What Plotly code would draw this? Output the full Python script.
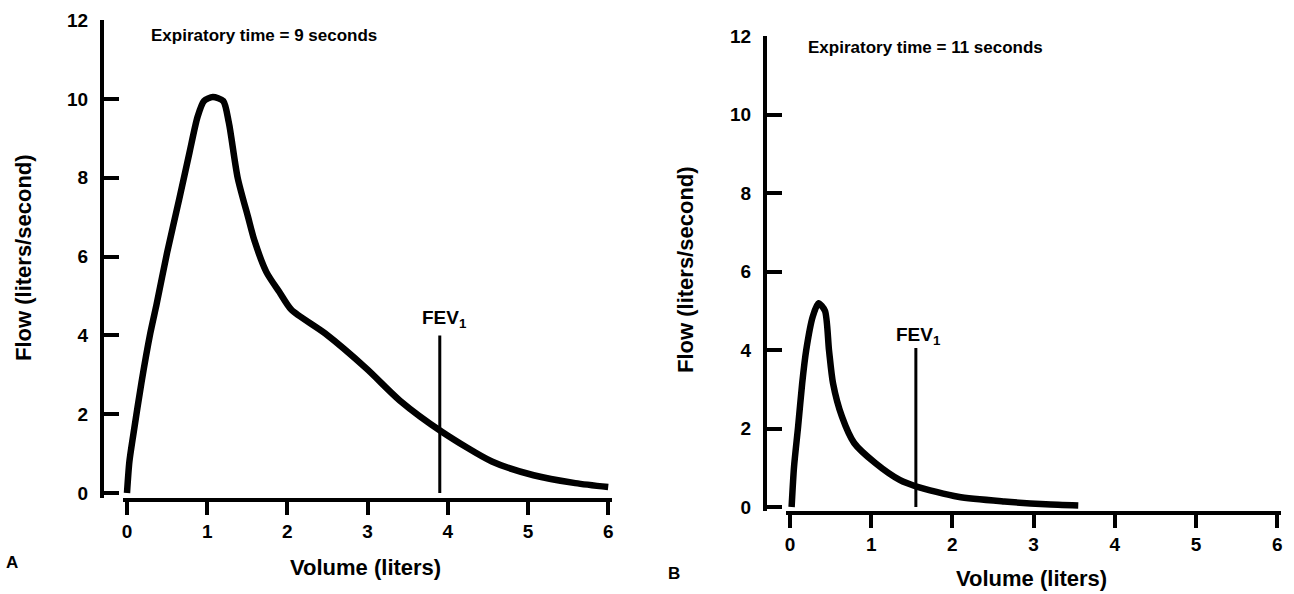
import plotly.graph_objects as go

# ---------------- data ----------------
vol_a = [0, 0.03, 0.08, 0.18, 0.29, 0.37, 0.5, 0.65, 0.78, 0.88, 0.96, 1.07, 1.2, 1.27,
         1.38, 1.51, 1.59, 1.74, 1.9, 2.05, 2.47, 2.99, 3.4, 3.93, 4.55, 5.07, 5.59, 6.0]
flow_a = [0, 0.8, 1.5, 2.8, 4.05, 4.8, 6.1, 7.45, 8.65, 9.55, 9.95, 10.05, 9.95, 9.4,
          8.0, 7.0, 6.4, 5.6, 5.1, 4.65, 4.05, 3.15, 2.35, 1.55, 0.8, 0.45, 0.25, 0.15]

vol_b = [0.02, 0.05, 0.1, 0.15, 0.2, 0.28, 0.35, 0.43, 0.48, 0.53, 0.64, 0.79, 1.05,
         1.35, 1.56, 2.07, 2.64, 3.15, 3.55]
flow_b = [0, 1.03, 2.05, 3.15, 4.0, 4.85, 5.19, 5.0, 4.0, 3.15, 2.3, 1.63, 1.12,
          0.69, 0.52, 0.26, 0.14, 0.07, 0.04]

fev1_vol_a = [3.9, 3.9]
fev1_vol_b = [1.55, 1.55]
fev1_flow_a = [0, 4.0]
fev1_flow_b = [0, 4.05]

x_ticks = [0, 1, 2, 3, 4, 5, 6]
y_ticks = [0, 2, 4, 6, 8, 10, 12]

note_a = "Expiratory time = 9 seconds"
note_b = "Expiratory time = 11 seconds"
fev_label = "FEV<sub>1</sub>"
x_title = "Volume (liters)"
y_title = "Flow (liters/second)"

# ---------------- layout geometry (pixels) ----------------
W, H = 1294, 594
FONT = "Liberation Sans, Arial, Helvetica, sans-serif"

def xdom(x0, ppu, rng):
    return [(x0 + rng[0] * ppu) / W, (x0 + rng[1] * ppu) / W]

def ydom(y0, ppu, rng):
    return [1 - (y0 - rng[0] * ppu) / H, 1 - (y0 - rng[1] * ppu) / H]

xr = [-0.05, 6.05]
yr_a = [-0.12, 12]
yr_b = [-0.1, 12]

curve_style = dict(color="black", width=6.5, shape="spline", smoothing=0.7)
fev_style = dict(color="black", width=3)

fig = go.Figure()
fig.add_trace(go.Scatter(x=vol_a, y=flow_a, mode="lines", line=curve_style,
                         xaxis="x", yaxis="y", showlegend=False, hoverinfo="skip"))
fig.add_trace(go.Scatter(x=fev1_vol_a, y=fev1_flow_a, mode="lines", line=fev_style,
                         xaxis="x", yaxis="y", showlegend=False, hoverinfo="skip"))
fig.add_trace(go.Scatter(x=vol_b, y=flow_b, mode="lines", line=curve_style,
                         xaxis="x2", yaxis="y2", showlegend=False, hoverinfo="skip"))
fig.add_trace(go.Scatter(x=fev1_vol_b, y=fev1_flow_b, mode="lines", line=fev_style,
                         xaxis="x2", yaxis="y2", showlegend=False, hoverinfo="skip"))

tickfont = dict(family=FONT, size=19, color="black", weight="bold")

xcommon = dict(range=xr, tickmode="array", tickvals=x_ticks, showline=True,
               linecolor="black", linewidth=4, ticks="outside", ticklen=13,
               tickwidth=4, tickcolor="black", showgrid=False, zeroline=False,
               tickfont=tickfont, fixedrange=True, automargin=False)
ycommon = dict(tickmode="array", tickvals=y_ticks, showline=True,
               linecolor="black", linewidth=4, ticks="inside", ticklen=15,
               tickwidth=4, tickcolor="black", showgrid=False, zeroline=False,
               tickfont=tickfont, ticklabelstandoff=8, anchor="free",
               fixedrange=True, automargin=False)

fig.update_layout(
    template="none",
    width=W, height=H, autosize=False,
    margin=dict(l=0, r=0, t=0, b=0, pad=0),
    paper_bgcolor="white", plot_bgcolor="white",
    xaxis=dict(domain=xdom(127, 80.2, xr), anchor="y", **xcommon),
    yaxis=dict(domain=ydom(493, 39.4, yr_a), range=yr_a, position=102 / W, **ycommon),
    xaxis2=dict(domain=xdom(790, 81.2, xr), anchor="y2", **xcommon),
    yaxis2=dict(domain=ydom(507, 39.25, yr_b), range=yr_b, position=765 / W, **ycommon),
)

title_font = dict(family=FONT, size=22, color="black", weight="bold")
note_font = dict(family=FONT, size=17, color="black", weight="bold")
fev_font = dict(family=FONT, size=19, color="black", weight="bold")
letter_font = dict(family=FONT, size=17, color="black", weight="bold")

ann = []
# axis titles
ann.append(dict(text=x_title, xref="paper", yref="paper", x=365 / W, y=1 - 567 / H,
                showarrow=False, font=title_font, xanchor="center", yanchor="middle"))
ann.append(dict(text=x_title, xref="paper", yref="paper", x=1031 / W, y=1 - 578 / H,
                showarrow=False, font=title_font, xanchor="center", yanchor="middle"))
ann.append(dict(text=y_title, xref="paper", yref="paper", x=23 / W, y=1 - 258 / H,
                showarrow=False, font=title_font, textangle=-90,
                xanchor="center", yanchor="middle"))
ann.append(dict(text=y_title, xref="paper", yref="paper", x=685 / W, y=1 - 270 / H,
                showarrow=False, font=title_font, textangle=-90,
                xanchor="center", yanchor="middle"))
# panel letters
ann.append(dict(text="A", xref="paper", yref="paper", x=12 / W, y=1 - 562 / H,
                showarrow=False, font=letter_font, xanchor="center", yanchor="middle"))
ann.append(dict(text="B", xref="paper", yref="paper", x=674 / W, y=1 - 573 / H,
                showarrow=False, font=letter_font, xanchor="center", yanchor="middle"))
# notes
ann.append(dict(text=note_a, xref="x", yref="y", x=0.27, y=11.6, showarrow=False,
                font=note_font, xanchor="left", yanchor="middle"))
ann.append(dict(text=note_b, xref="x2", yref="y2", x=0.2, y=11.7, showarrow=False,
                font=note_font, xanchor="left", yanchor="middle"))
# FEV1 labels
ann.append(dict(text=fev_label, xref="x", yref="y", x=fev1_vol_a[1], y=fev1_flow_a[1],
                showarrow=False, font=fev_font, xanchor="center", yanchor="bottom",
                xshift=5, yshift=2))
ann.append(dict(text=fev_label, xref="x2", yref="y2", x=fev1_vol_b[1], y=fev1_flow_b[1],
                showarrow=False, font=fev_font, xanchor="center", yanchor="bottom",
                xshift=3, yshift=-2))
fig.update_layout(annotations=ann)

fig.write_html(
    "out.html",
    config={"displayModeBar": False},
    post_script="document.body.style.margin='0';document.body.style.overflow='hidden';",
)
